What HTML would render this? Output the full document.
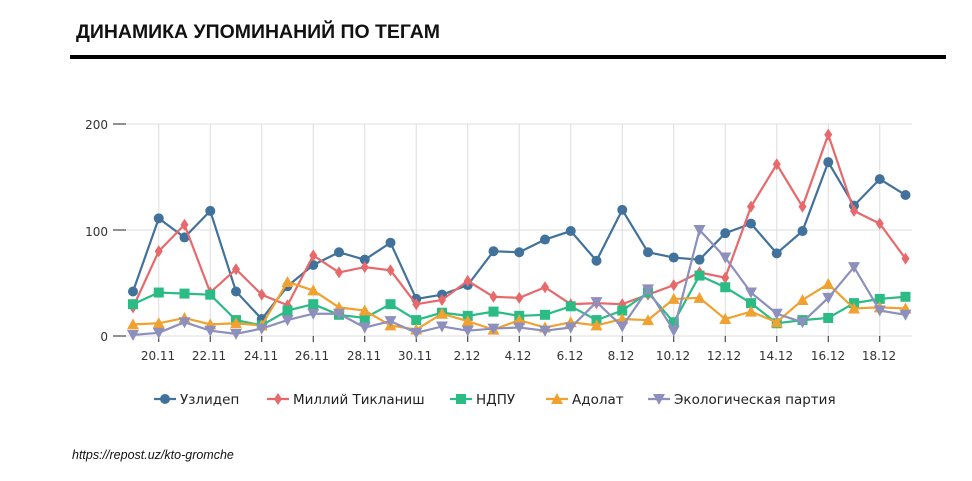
<!DOCTYPE html>
<html><head><meta charset="utf-8"><style>
body{margin:0;background:#fff;width:972px;height:481px;overflow:hidden;font-family:"Liberation Sans",sans-serif}
svg{position:absolute;left:0;top:0}
</style></head><body>
<svg id="s" width="972" height="481" xmlns="http://www.w3.org/2000/svg">
<text x="76" y="38" font-family="Liberation Sans, sans-serif" font-weight="bold" font-size="19" fill="#111" textLength="364" lengthAdjust="spacingAndGlyphs">ДИНАМИКА УПОМИНАНИЙ ПО ТЕГАМ</text>
<rect x="70" y="55" width="876" height="4" fill="#000"/>
<g id="grid" stroke="#ddd" stroke-width="1"></g>
<g font-family="DejaVu Sans, sans-serif" font-size="12" fill="#333" text-anchor="end">
<text x="108" y="129">200</text><text x="108" y="236">100</text><text x="108" y="341">0</text>
</g>
<g id="xl" font-family="DejaVu Sans, sans-serif" font-size="12" fill="#333" text-anchor="middle">
<text x="158" y="360">20.11</text><text x="209" y="360">22.11</text><text x="261" y="360">24.11</text><text x="312" y="360">26.11</text><text x="364" y="360">28.11</text><text x="415" y="360">30.11</text><text x="467" y="360">2.12</text><text x="518" y="360">4.12</text><text x="570" y="360">6.12</text><text x="621" y="360">8.12</text><text x="673" y="360">10.12</text><text x="724" y="360">12.12</text><text x="776" y="360">14.12</text><text x="828" y="360">16.12</text><text x="879" y="360">18.12</text>
</g>
<g id="series"></g>
<g id="leg" font-family="DejaVu Sans, sans-serif" font-size="13.5" fill="#222">
<text x="180" y="404">Узлидеп</text>
<text x="293" y="404">Миллий Тикланиш</text>
<text x="476" y="404">НДПУ</text>
<text x="572" y="404">Адолат</text>
<text x="674" y="404">Экологическая партия</text>
</g>
<text x="72" y="459" font-family="Liberation Sans, sans-serif" font-style="italic" font-size="12.5" fill="#111">https://repost.uz/kto-gromche</text>
</svg>
<script>
const NS="http://www.w3.org/2000/svg";
const X=i=>133+i*25.75, Y=v=>336-v*1.06;
const g=document.getElementById('grid');
function el(t,a,p){const e=document.createElementNS(NS,t);for(const k in a)e.setAttribute(k,a[k]);p.appendChild(e);return e;}
[0,100,200].forEach(v=>el('line',{x1:126,x2:912,y1:Y(v),y2:Y(v)},g));
for(let i=1;i<31;i+=2){el('line',{x1:X(i),x2:X(i),y1:124,y2:336},g);el('line',{x1:X(i),x2:X(i),y1:336,y2:342,stroke:'#222'},g);}
[0,100,200].forEach(v=>el('line',{x1:113,x2:126,y1:Y(v),y2:Y(v),stroke:'#222'},g));
const S=[
['#41729c','o',[42,111,93,118,42,16,47,67,79,72,88,35,39,48,80,79,91,99,71,119,79,74,72,97,106,78,99,164,123,148,133]],
['#e8696b','d',[27,80,105,41,63,39,29,76,60,65,62,30,34,52,37,36,46,30,31,30,39,48,60,55,122,162,122,190,118,106,73]],
['#2bbb84','s',[30,41,40,39,15,10,24,30,20,17,30,15,22,19,23,19,20,28,15,24,41,13,57,46,31,12,15,17,31,35,37]],
['#f0a12f','t',[11,12,17,11,12,10,51,43,27,24,10,6,21,14,6,15,8,13,10,16,15,35,36,16,23,13,34,49,26,27,26]],
['#8d8fbd','v',[1,3,13,5,2,7,15,21,21,8,14,3,9,5,7,8,5,8,32,9,44,5,100,74,41,21,13,36,65,24,20]]];
const sg=document.getElementById('series');
function mk(type,x,y,c,p){
 if(type=='o')el('circle',{cx:x,cy:y,r:5,fill:c},p);
 else if(type=='d')el('polygon',{points:`${x},${y-6} ${x+4},${y} ${x},${y+6} ${x-4},${y}`,fill:c},p);
 else if(type=='s')el('rect',{x:x-5,y:y-5,width:10,height:10,fill:c},p);
 else if(type=='t')el('polygon',{points:`${x},${y-6} ${x+6},${y+5} ${x-6},${y+5}`,fill:c},p);
 else el('polygon',{points:`${x},${y+6} ${x+6},${y-5} ${x-6},${y-5}`,fill:c},p);
}
S.forEach(([c,t,d])=>{
 el('polyline',{points:d.map((v,i)=>X(i)+','+Y(v)).join(' '),fill:'none',stroke:c,'stroke-width':2.2},sg);
 d.forEach((v,i)=>mk(t,X(i),Y(v),c,sg));
});
const lg=document.getElementById('leg');
[[165,0],[278,1],[461,2],[557,3],[659,4]].forEach(([x,k])=>{
 el('line',{x1:x-11,x2:x+11,y1:399,y2:399,stroke:S[k][0],'stroke-width':2.2},lg);mk(S[k][1],x,399,S[k][0],lg);
});
</script>
</body></html>
